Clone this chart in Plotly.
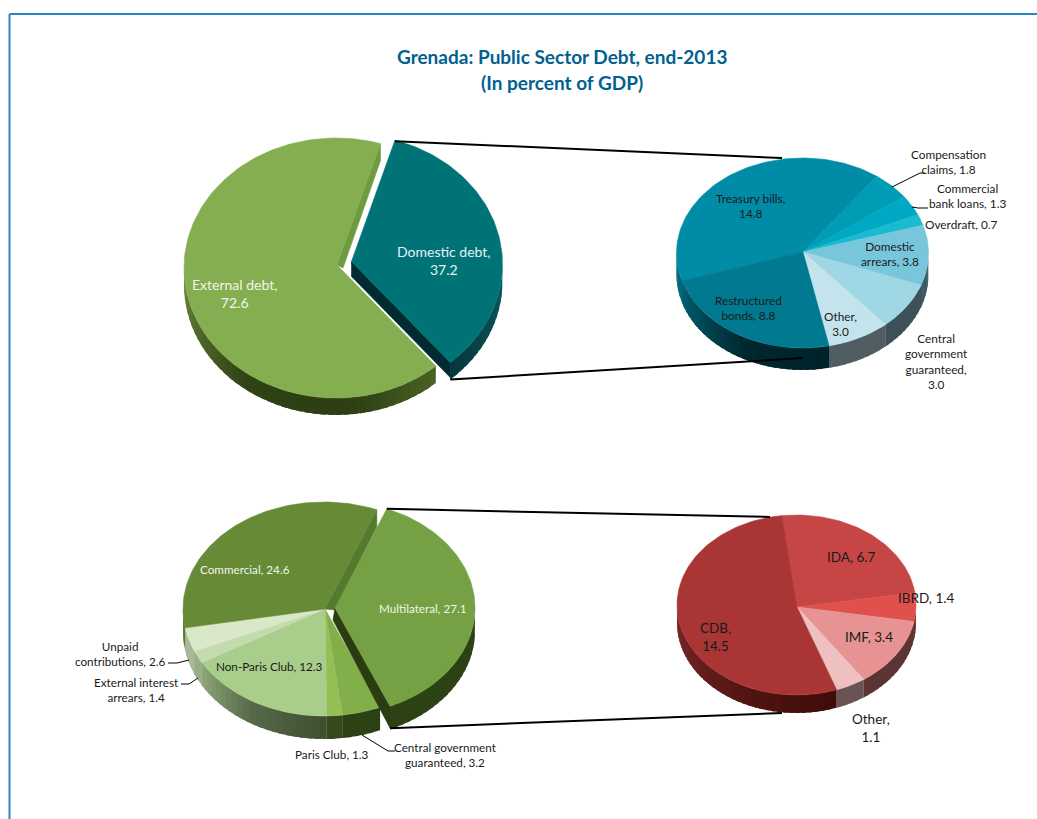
import math
import plotly.graph_objects as go

# Public sector debt, percent of GDP
overall_labels = ["Domestic debt,<br>%.1f", "External debt,<br>%.1f"]
overall_values = [37.2, 72.6]

domestic_labels = ["Treasury bills,<br>%.1f", "Compensation<br>claims, %.1f", "Commercial<br>bank loans, %.1f",
                   "Overdraft, %.1f", "Domestic<br>arrears, %.1f", "Central<br>government<br>guaranteed,<br>%.1f",
                   "Other,<br>%.1f", "Restructured<br>bonds, %.1f"]
domestic_values = [14.8, 1.8, 1.3, 0.7, 3.8, 3.0, 3.0, 8.8]

external_labels = ["Multilateral, %.1f", "Central government<br>guaranteed, %.1f", "Paris Club, %.1f",
                   "Non-Paris Club, %.1f", "External interest<br>arrears, %.1f", "Unpaid<br>contributions, %.1f",
                   "Commercial, %.1f"]
external_values = [27.1, 3.2, 1.3, 12.3, 1.4, 2.6, 24.6]

multilateral_labels = ["IDA, %.1f", "IBRD, %.1f", "IMF, %.1f", "Other,<br>%.1f", "CDB,<br>%.1f"]
multilateral_values = [6.7, 1.4, 3.4, 1.1, 14.5]

title_lines = ["Grenada: Public Sector Debt, end-2013", "(In percent of GDP)"]

FONT = "Lato"
W, H = 1037, 819
fig = go.Figure()


def hex_rgb(c):
    return tuple(int(c[i:i + 2], 16) for i in (1, 3, 5))


def shade(stops, t):
    if isinstance(stops, str):
        return stops
    stops = sorted(stops)
    if t <= stops[0][0]:
        return stops[0][1]
    for (a, ca), (b, cb) in zip(stops, stops[1:]):
        if t <= b:
            f = (t - a) / (b - a)
            rgb = [round(x + (y - x) * f) for x, y in zip(hex_rgb(ca), hex_rgb(cb))]
            return "rgb(%d,%d,%d)" % tuple(rgb)
    return stops[-1][1]


def poly(xs, ys, color, edge=0.6):
    fig.add_trace(go.Scatter(x=xs, y=ys, mode="lines", fill="toself", fillcolor=color,
                             line=dict(color=color, width=edge), hoverinfo="skip", showlegend=False))


def rim(g, t, off=(0, 0)):
    a = math.radians(t)
    return g["cx"] + off[0] + g["rx"] * math.sin(a), g["cy"] + off[1] - g["ry"] * math.cos(a)


def sweep(values, start):
    total = sum(values)
    spans, t = [], start
    for v in values:
        spans.append((t, t + 360 * v / total))
        t += 360 * v / total
    return spans


def arc(g, t0, t1, off):
    n = max(1, int((t1 - t0) / 0.75))
    return [rim(g, t0 + (t1 - t0) * i / n, off) for i in range(n + 1)]


def front_wall(g, t0, t1, stops, off=(0, 0)):
    """Curved outer wall, only where the rim faces the viewer.

    Bands overlap their neighbour so that no seam shows between them.
    """
    d = g["depth"]
    for lo, hi in ((90, 270), (450, 630), (-270, -90)):
        a, b = max(t0, lo), min(t1, hi)
        t = a
        while t < b:
            e = min(t + 3, b)
            pts = arc(g, t, min(e + 2, b), off)
            xs = [p[0] for p in pts] + [p[0] for p in reversed(pts)]
            ys = [p[1] for p in pts] + [p[1] + d for p in reversed(pts)]
            poly(xs + xs[:1], ys + ys[:1], shade(stops, (t + e) / 2 - (lo - 90)), 0)
            t = e


def cut_wall(g, t, color, apex_drop, off=(0, 0), depth=None):
    ax, ay = g["ax"] + off[0], g["ay"] + off[1]
    x, y = rim(g, t, off)
    d = g["depth"] if depth is None else depth
    poly([ax, x, x, ax + apex_drop[0], ax], [ay, y, y + d, ay + apex_drop[1], ay], color)


def face(g, t0, t1, color, off=(0, 0)):
    n = max(2, int((t1 - t0) / 1.5))
    pts = [rim(g, t0 + (t1 - t0) * i / n, off) for i in range(n + 1)]
    ax, ay = g["ax"] + off[0], g["ay"] + off[1]
    poly([ax] + [p[0] for p in pts] + [ax], [ay] + [p[1] for p in pts] + [ay], color)


def label(x, y, text, size, color="#1a1a1a"):
    fig.add_annotation(x=x, y=y, xref="x", yref="y", text=text, showarrow=False, align="center",
                       xanchor="center", yanchor="middle", font=dict(family=FONT, size=size, color=color))


def leader(xs, ys, color="#000000", width=1):
    fig.add_trace(go.Scatter(x=xs, y=ys, mode="lines", line=dict(color=color, width=width),
                             hoverinfo="skip", showlegend=False))


# Overall pie
G1 = dict(cx=336, cy=268, rx=152, ry=130, depth=17, ax=337, ay=265)
OFF1 = (14.5, -3.5)
s1 = sweep(overall_values, 17)
ext_wall = [(139, "#4a6224"), (175, "#2d3f13"), (215, "#2f4214"), (250, "#566f2e"), (270, "#6d8f3e")]
front_wall(G1, s1[1][0], s1[1][1], ext_wall)
cut_wall(G1, s1[1][1] - 360, "#6f9a40", (6, 3))
face(G1, s1[1][0], s1[1][1], "#85AE50")
cut_wall(G1, s1[0][1], "#002B30", (0, 15), OFF1, 15)
front_wall(G1, s1[0][0], s1[0][1], [(90, "#0c5c60"), (139, "#05383c")], OFF1)
face(G1, s1[0][0], s1[0][1], "#007377", OFF1)

# Domestic breakdown
G2 = dict(cx=802.5, cy=253, rx=126, ry=95, depth=22, ax=803, ay=252)
s2 = sweep(domestic_values, 253)
cols2 = ["#008CA6", "#009CB5", "#00A9C3", "#1ABBD0", "#78C6DC", "#A0D7E4", "#C3E4EC", "#007991"]
walls2 = ["#00697d", "#00697d", "#00697d", "#00697d", "#3f5b66", "#3f5158", "#505d63",
          [(170, "#00232a"), (205, "#00262e"), (255, "#006376")]]
for (a, b), w in zip(s2, walls2):
    front_wall(G2, a, b, w)
for (a, b), c in zip(s2, cols2):
    face(G2, a, b, c)

# External breakdown
G3 = dict(cx=324, cy=609, rx=141, ry=107, depth=23, ax=325, ay=609)
OFF3 = (10, -1)
s3 = sweep(external_values, 22)
cols3 = ["#75A043", "#82AF4A", "#93BF55", "#A9CE8C", "#C4DCAD", "#DAE8CA", "#668A36"]
walls3 = ["#2D4214", "#2D4214", "#36491b",
          [(180, "#3f4f30"), (210, "#55694a"), (240, "#8fa878")], "#98ad85", "#a8b89a", "#5a7a30"]
for (a, b), w in zip(s3[1:], walls3[1:]):
    front_wall(G3, a, b, w)
cut_wall(G3, s3[6][1] - 360, "#547A2E", (10, 1), depth=17)
for (a, b), c in zip(s3[1:], cols3[1:]):
    face(G3, a, b, c)
cut_wall(G3, s3[0][1], "#2A3D10", (-2, 12), OFF3, 22)
front_wall(G3, s3[0][0], s3[0][1], walls3[0], OFF3)
face(G3, s3[0][0], s3[0][1], cols3[0], OFF3)

# Multilateral breakdown
G4 = dict(cx=796.5, cy=605, rx=119.5, ry=90, depth=18, ax=797, ay=607)
s4 = sweep(multilateral_values, -7)
cols4 = ["#C64646", "#E0514E", "#E79393", "#EFC0C0", "#A93535"]
walls4 = ["#6b2a2a", "#6b2a2a", "#5b3535", "#6a5355",
          [(160, "#3f0c0a"), (200, "#4f1410"), (270, "#7a2a28")]]
for (a, b), w in zip(s4, walls4):
    front_wall(G4, a, b, w)
for (a, b), c in zip(s4, cols4):
    face(G4, a, b, c)

# Connectors from each separated slice to its breakdown
x0, y0 = rim(G1, s1[0][0], OFF1)
x1, y1 = rim(G1, s1[0][1], OFF1)
leader([x0, 782], [y0 + 1, 158], width=2)
leader([x1, 803], [y1 + G1["depth"], 358], width=2)
x0, y0 = rim(G3, s3[0][0], OFF3)
x1, y1 = rim(G3, s3[0][1], OFF3)
leader([x0, 770], [y0, 517], width=2)
leader([x1, 782], [y1 + 22, 713], width=2)

# Callout lines for the small slices
leader([892, 920, 925], [187, 173, 173])
leader([912, 918, 928], [207, 208, 208])
leader([168, 177, 189], [663, 663, 660])
leader([181, 189, 198], [684, 684, 678])
leader([362, 388, 395], [735, 751, 751])

# Slice labels
for i, (x, y, color) in enumerate([(444, 260, "#E6F2F2"), (234, 293, "#F0F5E8")]):
    label(x, y, overall_labels[i] % overall_values[i], 14, color)

for i, (x, y) in enumerate([(751, 206), (948, 162), (967, 196), (961, 224), (890, 254),
                            (936, 361), (840, 324), (748, 308)]):
    label(x, y, domestic_labels[i] % domestic_values[i], 11.8)

for i, (x, y, color) in enumerate([(423, 608, "#F0F5E8"), (445, 754, "#1a1a1a"), (332, 754, "#1a1a1a"),
                                   (269, 666, "#1a1a1a"), (136, 689, "#1a1a1a"), (120, 653, "#1a1a1a"),
                                   (245, 569, "#F0F5E8")]):
    label(x, y, external_labels[i] % external_values[i], 11.7, color)

for i, (x, y) in enumerate([(851, 557), (926, 598), (869, 637), (871, 728), (715, 637)]):
    label(x, y, multilateral_labels[i] % multilateral_values[i], 13.5)

label(562, 56, "<b>%s</b>" % title_lines[0], 19, "#00608F")
label(562, 82, "<b>%s</b>" % title_lines[1], 19, "#00608F")

fig.update_layout(
    width=W, height=H, margin=dict(l=0, r=0, t=0, b=0),
    paper_bgcolor="white", plot_bgcolor="white", showlegend=False,
    xaxis=dict(range=[0, W], visible=False, fixedrange=True),
    yaxis=dict(range=[H, 0], visible=False, fixedrange=True),
    shapes=[
        dict(type="line", xref="x", yref="y", x0=9.5, x1=W, y0=14, y1=14, line=dict(color="#2C85C4", width=2)),
        dict(type="line", xref="x", yref="y", x0=9.5, x1=9.5, y0=14, y1=H, line=dict(color="#2C85C4", width=2)),
    ],
)
fig.write_html("out.html", config=dict(displayModeBar=False))
